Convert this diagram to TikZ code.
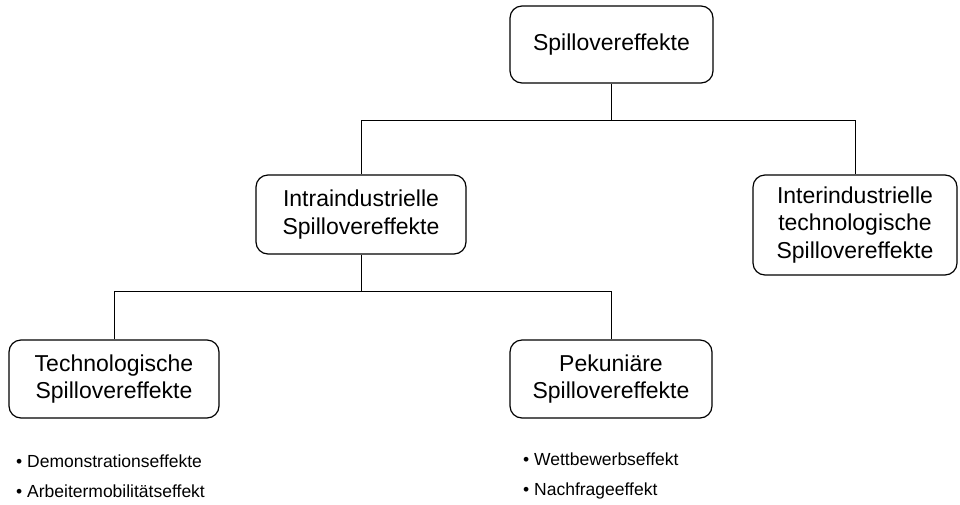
\documentclass[tikz,border=0pt]{standalone}
\usepackage{fontspec}
\setmainfont{Liberation Sans}
\begin{document}
\begin{tikzpicture}[x=1pt,y=-1pt,
  box/.style={draw=black, line width=1.2pt, rounded corners=12pt, align=center,
    font=\fontsize{23}{27.5}\selectfont, inner sep=0pt},
  conn/.style={draw=black, line width=1pt},
  bullet/.style={anchor=base west, inner sep=0pt, font=\fontsize{17.5}{20}\selectfont}]
\useasboundingbox[fill=white] (0,0) rectangle (960,504);
\node[box, minimum width=203pt, minimum height=77pt] (top) at (611.5,44.5) {Spillovereffekte};
\node[box, minimum width=210pt, minimum height=79pt] (intra) at (361,214.5) {Intraindustrielle\\Spillovereffekte};
\node[box, minimum width=204pt, minimum height=100pt] (inter) at (855,225) {Interindustrielle\\technologische\\Spillovereffekte};
\node[box, minimum width=210pt, minimum height=78pt] (tech) at (114,379) {Technologische\\Spillovereffekte};
\node[box, minimum width=202pt, minimum height=78pt] (pek) at (611,379) {Pekuniäre\\Spillovereffekte};
\coordinate (b1) at (0,120);
\coordinate (b2) at (0,291);
\draw[conn] (top.south) -- (top.south |- b1);
\draw[conn] (intra.north) -- (intra.north |- b1) -- (inter.north |- b1) -- (inter.north);
\draw[conn] (intra.south) -- (intra.south |- b2);
\draw[conn] (tech.north) -- (tech.north |- b2) -- (pek.north |- b2) -- (pek.north);
\node[bullet] (l1) at (16,467) {• Demonstrationseffekte};
\node[bullet] (l2) at (16,497) {• Arbeitermobilitätseffekt};
\node[bullet] (r1) at (523,465) {• Wettbewerbseffekt};
\node[bullet] (r2) at (523,495) {• Nachfrageeffekt};
\end{tikzpicture}
\end{document}
